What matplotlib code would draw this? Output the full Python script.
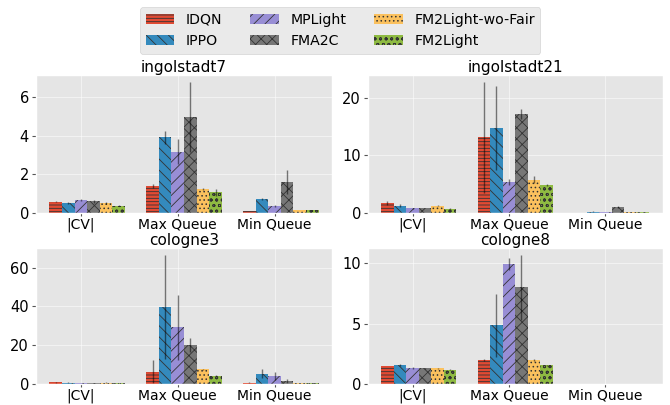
import matplotlib
matplotlib.use("Agg")
import matplotlib.pyplot as plt
import numpy as np

plt.style.use("ggplot")
plt.rcParams["hatch.color"] = "#333333"
plt.rcParams["hatch.linewidth"] = 0.6

metrics = ["|CV|", "Max Queue", "Min Queue"]
methods = ["IDQN", "IPPO", "MPLight", "FMA2C", "FM2Light-wo-Fair", "FM2Light"]
colors = ["#E24A33", "#348ABD", "#988ED5", "#777777", "#FBC15E", "#8EBA42"]
hatches = ["-----", "\\\\\\", "///", "xxx", "....", "ooo"]
scenarios = ["ingolstadt7", "ingolstadt21", "cologne3", "cologne8"]

# values[scenario][method] = [|CV|, Max Queue, Min Queue]
ing7_mean = [[0.59, 1.41, 0.12], [0.53, 3.90, 0.72], [0.65, 3.17, 0.38],
             [0.60, 4.97, 1.62], [0.52, 1.24, 0.15], [0.38, 1.07, 0.15]]
ing7_err = [[0.03, 0.10, 0.01], [0.05, 0.36, 0.05], [0.05, 0.66, 0.05],
            [0.08, 1.82, 0.62], [0.03, 0.05, 0.01], [0.02, 0.17, 0.02]]
ing21_mean = [[1.74, 13.1, 0.05], [1.28, 14.8, 0.25], [0.81, 5.33, 0.20],
              [0.87, 17.2, 1.00], [1.28, 5.80, 0.10], [0.75, 4.87, 0.15]]
ing21_err = [[0.35, 9.7, 0.02], [0.20, 7.3, 0.03], [0.05, 0.5, 0.03],
             [0.05, 0.9, 0.20], [0.10, 0.6, 0.02], [0.05, 0.2, 0.02]]
col3_mean = [[0.8, 6.4, 0.7], [0.7, 39.7, 5.25], [0.6, 29.3, 4.1],
             [0.6, 20.0, 1.5], [0.7, 7.6, 0.3], [0.6, 4.2, 0.3]]
col3_err = [[0.2, 6.1, 0.1], [0.1, 27.0, 2.4], [0.1, 16.8, 2.2],
            [0.1, 3.6, 1.2], [0.1, 0.3, 0.05], [0.1, 0.2, 0.05]]
col8_mean = [[1.49, 1.98, 0.0], [1.58, 4.84, 0.0], [1.33, 9.89, 0.02],
             [1.28, 7.99, 0.02], [1.30, 1.96, 0.0], [1.17, 1.55, 0.0]]
col8_err = [[0.03, 0.05, 0.0], [0.10, 2.6, 0.0], [0.10, 0.5, 0.01],
            [0.05, 2.7, 0.01], [0.03, 0.10, 0.0], [0.03, 0.05, 0.0]]

means = [ing7_mean, ing21_mean, col3_mean, col8_mean]
errs = [ing7_err, ing21_err, col3_err, col8_err]

fig = plt.figure(figsize=(6.7, 4.05), dpi=100)
fig.patch.set_facecolor("white")
positions = [
    [0.0537, 0.474, 0.442, 0.341],
    [0.549, 0.474, 0.440, 0.341],
    [0.0537, 0.052, 0.442, 0.335],
    [0.549, 0.052, 0.440, 0.335],
]
x = np.arange(len(metrics))
w = 0.13
handles = []
for k, sc in enumerate(scenarios):
    ax = fig.add_axes(positions[k])
    for i, m in enumerate(methods):
        b = ax.bar(x + (i - 2) * w, means[k][i], w, yerr=errs[k][i],
                   color=colors[i], hatch=hatches[i], label=m,
                   error_kw=dict(ecolor="black", elinewidth=1, alpha=0.5, capsize=0))
        if k == 0:
            handles.append(b)
    ax.set_xticks(x)
    ax.set_xticklabels(metrics)
    ax.set_title(sc, fontsize=11, color="black", pad=2)
    ax.tick_params(axis="x", labelsize=10, colors="black", pad=1, length=2)
    ax.tick_params(axis="y", labelsize=10.5, colors="black", pad=2, length=3)
    ax.tick_params(axis="both", color="#555555")
    ax.grid(True, color="white", alpha=0.5, linewidth=0.8)
    ax.set_axisbelow(True)

fig.legend(handles, methods, loc="upper center", ncol=3,
           bbox_to_anchor=(0.508, 1.0), fontsize=10.2, frameon=True,
           facecolor="#E5E5E5", edgecolor="#CCCCCC")

fig.savefig("out.png", dpi=100)
